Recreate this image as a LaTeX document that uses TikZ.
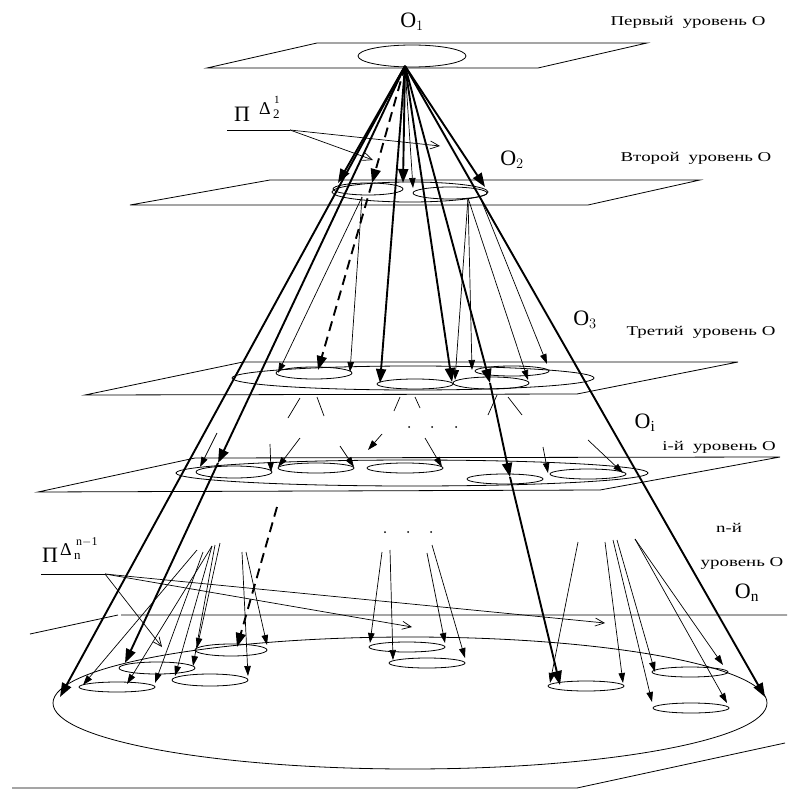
\documentclass[tikz,border=0pt]{standalone}
\usepackage{fontspec}
\setmainfont{Liberation Serif}
\newfontfamily\widefont[FakeStretch=1.4]{Liberation Serif}
\usetikzlibrary{arrows.meta}
\begin{document}
\begin{tikzpicture}[x=1pt,y=-1pt,
  thk/.style={line width=1.9pt,-{Triangle[length=14pt,width=10pt]}},
  thn/.style={line width=0.7pt,-{Triangle[length=10pt,width=6.5pt]}},
  dsh/.style={thk,dash pattern=on 10pt off 6pt},
  opn/.style={line width=0.7pt,-{Straight Barb[length=9pt,width=8pt]}},
  lvl/.style={font=\widefont\fontsize{13.5}{15}\selectfont},
  big/.style={font=\fontsize{22}{24}\selectfont},
  sml/.style={font=\fontsize{18}{19}\selectfont,inner sep=0pt},
  tny/.style={font=\fontsize{13}{14}\selectfont,inner sep=0pt}]
  \useasboundingbox (0,0) rectangle (792,789);
  % planes
  \draw[line width=0.8pt] (207,68)--(317,43)--(647,43)--(538,68)--cycle;
  \draw[line width=0.8pt] (130,205)--(270,180)--(700,180)--(588,205)--cycle;
  \draw[line width=0.8pt] (85,395)--(243,362)--(738,362)--(577,394)--cycle;
  \draw[line width=0.8pt] (38,492)--(195,458)--(780,457)--(600,490)--cycle;
  \draw[line width=0.8pt] (30,634)--(118,615) (121,615)--(787,615);
  \draw[line width=0.8pt] (12,788)--(577,788)--(785,743);
  % ellipses
  \draw[line width=0.8pt] (412,56) ellipse [x radius=54, y radius=11];
  \draw[line width=0.8pt] (410,192) ellipse [x radius=78, y radius=10];
  \draw[line width=0.8pt] (368,189) ellipse [x radius=35, y radius=6];
  \draw[line width=0.8pt] (450,193) ellipse [x radius=37, y radius=6];
  \draw[line width=0.8pt] (413,378) ellipse [x radius=181, y radius=12];
  \draw[line width=0.8pt] (314,373) ellipse [x radius=38, y radius=6];
  \draw[line width=0.8pt] (415,384) ellipse [x radius=38, y radius=5];
  \draw[line width=0.8pt] (491,383) ellipse [x radius=38, y radius=6];
  \draw[line width=0.8pt] (512,371) ellipse [x radius=37, y radius=5];
  \draw[line width=0.8pt] (412,473) ellipse [x radius=236, y radius=13];
  \draw[line width=0.8pt] (234,472) ellipse [x radius=38, y radius=6];
  \draw[line width=0.8pt] (316,468) ellipse [x radius=38, y radius=5];
  \draw[line width=0.8pt] (405,468) ellipse [x radius=38, y radius=5];
  \draw[line width=0.8pt] (505,479) ellipse [x radius=38, y radius=5];
  \draw[line width=0.8pt] (588,474) ellipse [x radius=38, y radius=5];
  \draw[line width=0.8pt] (410,703) ellipse [x radius=357, y radius=66];
  \draw[line width=0.8pt] (117,687) ellipse [x radius=38, y radius=5];
  \draw[line width=0.8pt] (157,668) ellipse [x radius=38, y radius=6];
  \draw[line width=0.8pt] (210,680) ellipse [x radius=38, y radius=6];
  \draw[line width=0.8pt] (231,650) ellipse [x radius=36, y radius=6];
  \draw[line width=0.8pt] (407,647) ellipse [x radius=38, y radius=5];
  \draw[line width=0.8pt] (427,663) ellipse [x radius=38, y radius=5];
  \draw[line width=0.8pt] (586,686) ellipse [x radius=38, y radius=5];
  \draw[line width=0.8pt] (690,672) ellipse [x radius=38, y radius=5];
  \draw[line width=0.8pt] (691,708) ellipse [x radius=38, y radius=5];
  % apex and thick lines
  \coordinate (apex) at (405,66);
  \draw[thk] (apex)--(60,697);
  \draw[thk] (apex)--(218,463);
  \draw[thk] (218,463)--(125,663);
  \draw[thk] (apex)--(338,183);
  \draw[dsh] (apex)--(372,183);
  \draw[dsh] (372,183)--(318,370);
  \draw[thk] (apex)--(403,183);
  \draw[thn] (apex)--(413,188);
  \draw[thk] (apex)--(380,383);
  \draw[thk] (apex)--(485,187);
  \draw[thk] (apex)--(452,382);
  \draw[thk] (apex)--(490,383);
  \draw[thk] (490,383)--(510,477);
  \draw[thk] (510,477)--(560,685);
  \draw[thk] (apex)--(765,697);
  % level 2 to level 3
  \draw[thn] (362,197)--(278,373);
  \draw[thn] (362,197)--(350,372);
  \draw[thn] (468,198)--(455,380);
  \draw[thn] (468,198)--(472,370);
  \draw[thn] (468,198)--(528,380);
  \draw[thn] (480,197)--(547,364);
  % level 3 to level i
  \draw[line width=0.7pt] (300,398)--(288,418) (317,397)--(324,416);
  \draw[line width=0.7pt] (400,397)--(394,411) (415,397)--(420,408);
  \draw[line width=0.7pt] (497,395)--(488,415) (508,397)--(522,415);
  \foreach \x in {409,432,456} \fill (\x,427) circle (1pt);
  \draw[thn] (217,433)--(200,467);
  \draw[thn] (270,444)--(271,472);
  \draw[thn] (300,438)--(278,467);
  \draw[thn] (340,446)--(354,467);
  \draw[thn] (382,434)--(368,450);
  \draw[thn] (425,438)--(442,467);
  \draw[thn] (543,447)--(548,473);
  \draw[thn] (588,440)--(623,473);
  % level i to level n
  \draw[dsh] (277,507)--(237,647);
  \draw[thn] (197,550)--(83,685);
  \draw[thn] (203,552)--(155,683);
  \draw[thn] (212,546)--(175,676);
  \draw[thn] (215,545)--(193,666);
  \draw[thn] (220,543)--(197,648);
  \draw[thn] (212,546)--(127,684);
  \draw[thn] (242,552)--(248,676);
  \draw[thn] (246,552)--(267,645);
  \foreach \x in {385,408,431} \fill (\x,532) circle (1pt);
  \draw[thn] (382,552)--(370,643);
  \draw[thn] (390,550)--(393,660);
  \draw[thn] (427,553)--(445,643);
  \draw[thn] (432,545)--(465,658);
  \draw[thn] (578,542)--(550,683);
  \draw[thn] (605,542)--(623,683);
  \draw[thn] (613,540)--(652,702);
  \draw[thn] (617,540)--(655,672);
  \draw[thn] (635,539)--(723,665);
  \draw[thn] (635,539)--(727,703);
  % pointer labels
  \node[big,anchor=base west,inner sep=0pt] (pi2) at (234,122) {Π};
  \node[sml,anchor=base west] (pi2d) at (259,115) {\symbol{"0394}};
  \node[tny,anchor=base west] (pi2b) at (273,118) {2};
  \node[tny,anchor=base west,font=\fontsize{11}{12}\selectfont] (pi2t) at (274,104) {1};
  \draw[line width=0.7pt] (227,130)--(290,130);
  \draw[opn] (290,130)--(373,160);
  \draw[opn] (290,130)--(440,146);
  \node[big,anchor=base west,inner sep=0pt] (pin) at (42,562) {Π};
  \node[sml,anchor=base west] (pind) at (60,555) {\symbol{"0394}};
  \node[tny,anchor=base west] (pinb) at (74,559) {n};
  \node[tny,anchor=base west,font=\fontsize{12}{13}\selectfont] (pint) at (76,545) {n$-$1};
  \draw[line width=0.7pt] (41,574)--(105,574);
  \draw[opn] (105,574)--(162,647);
  \draw[opn] (105,574)--(412,627);
  \draw[opn] (105,574)--(605,623);
  % level labels
  \node[big] (o1) at (412,22) {O$_1$};
  \node[big] (o2) at (512,160) {O$_2$};
  \node[big] (o3) at (585,320) {O$_3$};
  \node[big] (oi) at (645,423) {O$_{\mathrm{i}}$};
  \node[big] (on) at (747,593) {O$_{\mathrm{n}}$};
  \node[lvl] (t1) at (688,22) {Первый\hspace{9pt}уровень\ О};
  \node[lvl] (t2) at (696,158) {Второй\hspace{9pt}уровень\ О};
  \node[lvl] (t3) at (701,332) {Третий\hspace{9pt}уровень\ О};
  \node[lvl] (ti) at (719,447) {i-й\hspace{9pt}уровень\ О};
  \node[lvl] (tn) at (729,528) {n-й};
  \node[lvl] (tn2) at (742,563) {уровень О};
\end{tikzpicture}
\end{document}
